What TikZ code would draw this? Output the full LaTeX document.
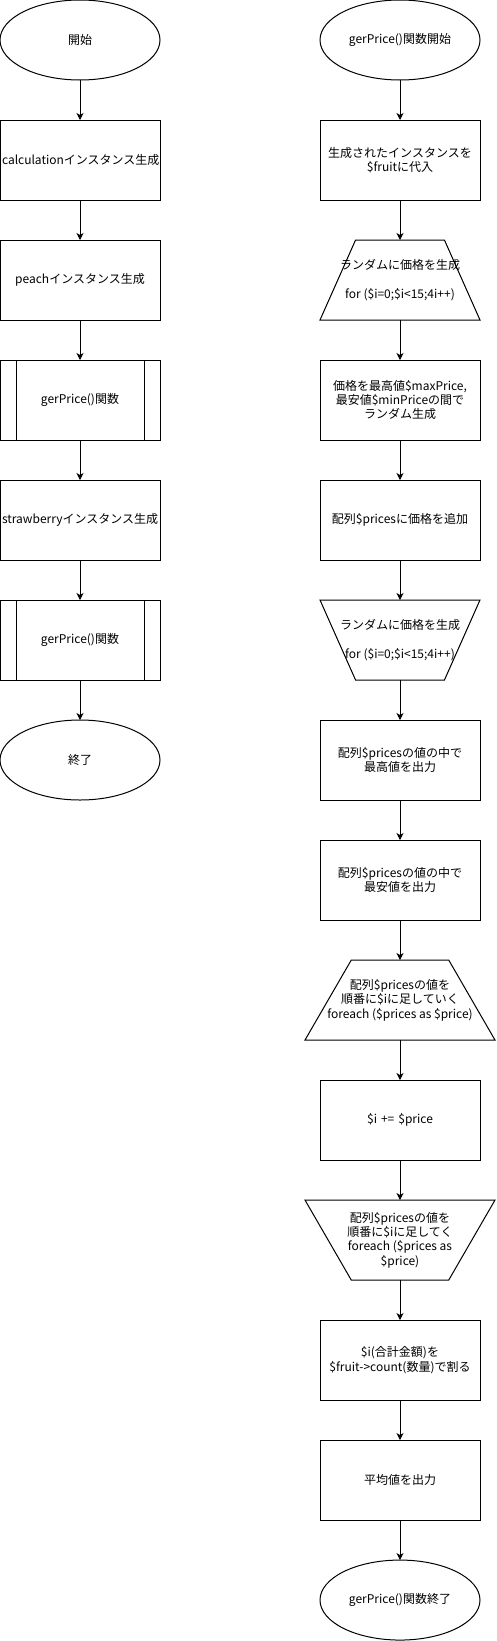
\documentclass[tikz,border=0pt]{standalone}
\usepackage{fontspec}
\setmainfont{Noto Sans CJK JP}
\usetikzlibrary{arrows.meta,positioning,shapes.geometric}

\begin{document}
\begin{tikzpicture}[x=1pt,y=1pt,>={Stealth[length=7pt,width=7pt,inset=2pt]},
        font=\fontsize{12}{14.4}\selectfont,line width=1pt,node distance=40pt,
        box/.style={draw,minimum width=160pt,minimum height=80pt,text width=156pt,inner xsep=2pt,
                    inner ysep=0pt,outer sep=0pt,align=center},
        term/.style={draw,ellipse,minimum width=160pt,minimum height=80pt,inner sep=0pt,outer sep=0pt,align=center},
        proc/.style={box,path picture={
            \draw ([xshift=16pt]path picture bounding box.north west) -- ([xshift=16pt]path picture bounding box.south west)
                  ([xshift=-16pt]path picture bounding box.north east) -- ([xshift=-16pt]path picture bounding box.south east);}},
        lim/.style={draw,trapezium,trapezium stretches=true,minimum height=80pt,inner sep=1pt,outer sep=0pt},
        loopin/.style={lim,trapezium angle=68.2,minimum width=160pt},
        loopout/.style={lim,trapezium angle=111.8,minimum width=160pt},
        wideloopin/.style={lim,trapezium angle=64.6,minimum width=190pt},
        wideloopout/.style={lim,trapezium angle=115.4,minimum width=190pt}]
        \useasboundingbox (0,0) rectangle (496,-1641);
        % main flow
        \node[term] (st) at (80,-40) {開始};
        \node[box,below=of st] (calc) {calculationインスタンス生成};
        \node[box,below=of calc] (peach) {peachインスタンス生成};
        \node[proc,below=of peach] (gp1) {gerPrice()関数};
        \node[box,below=of gp1] (straw) {strawberryインスタンス生成};
        \node[proc,below=of straw] (gp2) {gerPrice()関数};
        \node[term,below=of gp2] (en) {終了};
        % gerPrice()
        \node[term] (fs) at (400,-40) {gerPrice()関数開始};
        \node[box,below=of fs] (fruit) {生成されたインスタンスを\\\$fruitに代入};
        \node[loopin,below=of fruit,label={[align=center]center:{ランダムに価格を生成\\[14.4pt]for (\$i=0;\$i<15;4i++)}}] (lp) {};
        \node[box,below=of lp] (rnd) {価格を最高値\$maxPrice,\\最安値\$minPriceの間で\\ランダム生成};
        \node[box,below=of rnd] (add) {配列\$pricesに価格を追加};
        \node[loopout,below=of add,label={[align=center]center:{ランダムに価格を生成\\[14.4pt]for (\$i=0;\$i<15;4i++)}}] (le) {};
        \node[box,below=of le] (mx) {配列\$pricesの値の中で\\最高値を出力};
        \node[box,below=of mx] (mn) {配列\$pricesの値の中で\\最安値を出力};
        \node[wideloopin,below=of mn,label={[align=center]center:{配列\$pricesの値を\\順番に\$iに足していく\\foreach (\$prices as \$price)}}] (sl) {};
        \node[box,below=of sl] (acc) {\$i += \$price};
        \node[wideloopout,below=of acc,label={[align=center]center:{配列\$pricesの値を\\順番に\$iに足してく\\foreach (\$prices as\\\$price)}}] (se) {};
        \node[box,below=of se] (avgd) {\$i(合計金額)を\\\$fruit->count(数量)で割る};
        \node[box,below=of avgd] (out) {平均値を出力};
        \node[term,below=of out] (fe) {gerPrice()関数終了};
        \draw[->] (st) -- (calc);
        \draw[->] (calc) -- (peach);
        \draw[->] (peach) -- (gp1);
        \draw[->] (gp1) -- (straw);
        \draw[->] (straw) -- (gp2);
        \draw[->] (gp2) -- (en);
        \draw[->] (fs) -- (fruit);
        \draw[->] (fruit) -- (lp);
        \draw[->] (lp) -- (rnd);
        \draw[->] (rnd) -- (add);
        \draw[->] (add) -- (le);
        \draw[->] (le) -- (mx);
        \draw[->] (mx) -- (mn);
        \draw[->] (mn) -- (sl);
        \draw[->] (sl) -- (acc);
        \draw[->] (acc) -- (se);
        \draw[->] (se) -- (avgd);
        \draw[->] (avgd) -- (out);
        \draw[->] (out) -- (fe);
      \end{tikzpicture}
\end{document}
